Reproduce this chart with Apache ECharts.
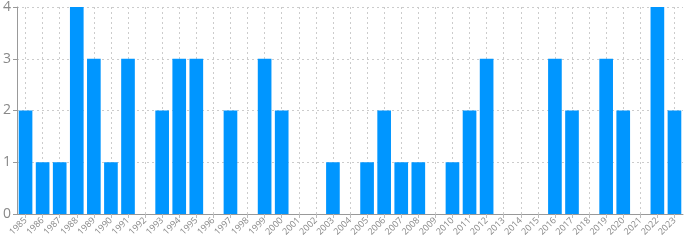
<!DOCTYPE html>
<html><head><meta charset="utf-8">
<script src="https://cdn.jsdelivr.net/npm/echarts@6/dist/echarts.min.js"></script>
<style>html,body{margin:0;padding:0;background:#fff}#c{width:685px;height:241px}</style>
</head><body><div id="c"></div>
<script>
const years = ['1985','1986','1987','1988','1989','1990','1991','1992','1993','1994','1995','1996','1997','1998','1999','2000','2001','2002','2003','2004','2005','2006','2007','2008','2009','2010','2011','2012','2013','2014','2015','2016','2017','2018','2019','2020','2021','2022','2023'];
const counts = [2,1,1,4,3,1,3,0,2,3,3,0,2,0,3,2,0,0,1,0,1,2,1,1,0,1,2,3,0,0,0,3,2,0,3,2,0,4,2];
const chart = echarts.init(document.getElementById('c'));
chart.setOption({
  animation:false,
  grid:{left:17,right:2,top:6,bottom:27,containLabel:false},
  xAxis:{type:'category',data:years,
    axisLine:{lineStyle:{color:'#999'}},
    axisTick:{show:true,alignWithLabel:true,length:4,lineStyle:{color:'#bbb'}},
    axisLabel:{rotate:45,fontSize:9,color:'#888',interval:0,margin:5,fontFamily:'Open Sans'},
    splitLine:{show:true,alignWithLabel:true,lineStyle:{type:[2,3],color:'#ccc'}}
  },
  yAxis:{type:'value',min:0,max:4,interval:1,
    axisLine:{show:true,lineStyle:{color:'#999'}},
    axisTick:{show:true,length:4,lineStyle:{color:'#999'}},
    axisLabel:{fontSize:14,color:'#888',margin:6,fontFamily:'Open Sans'},
    splitLine:{lineStyle:{type:[2,3],color:'#ccc'}}
  },
  series:[{type:'bar',data:counts,barWidth:'80%',itemStyle:{color:'#0096ff'}}]
});
</script></body></html>
